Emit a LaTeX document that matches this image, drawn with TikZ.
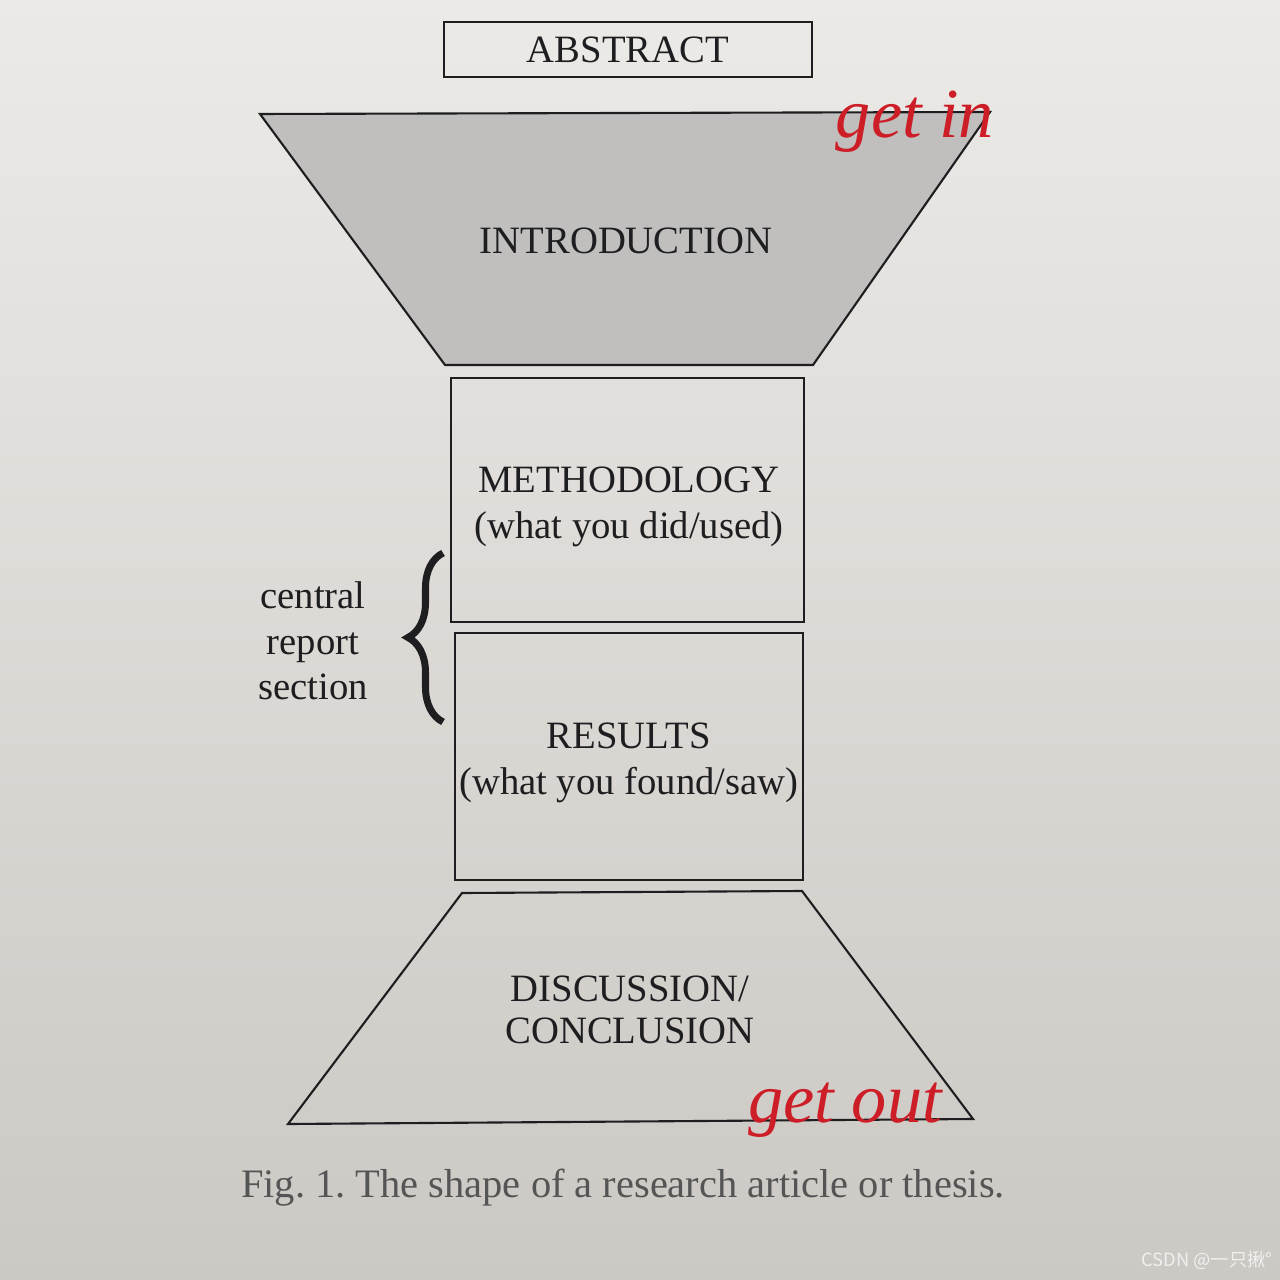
\documentclass[tikz,border=0pt]{standalone}
\usepackage{fontspec}
\setmainfont{Liberation Serif}
\newfontfamily\cjkfont{Noto Sans CJK SC}
\usetikzlibrary{positioning,decorations.pathreplacing}
\definecolor{paperTop}{RGB}{236,234,231}
\definecolor{paperBot}{RGB}{204,200,196}
\definecolor{introGray}{RGB}{192,191,190}
\definecolor{inkDark}{RGB}{30,30,32}
\definecolor{capGray}{RGB}{85,85,85}
\definecolor{penRed}{RGB}{205,30,40}
\tikzset{
    base/.style={font=\fontsize{11}{13}\selectfont, align=center, text=inkDark},
    part/.style={base, rectangle, draw=inkDark, line width=0.6pt, inner sep=0pt},
    funnel/.style={draw=inkDark, line width=0.6pt, line join=miter},
    label/.style={base, inner sep=1pt},
    curly/.style={decorate, decoration={brace, amplitude=0.35cm}, draw=inkDark, line width=2pt},
    pen/.style={font=\fontsize{20}{20}\selectfont\itshape, text=penRed, inner sep=0pt},
    stamp/.style={font=\cjkfont\fontsize{5.2}{6}\selectfont, text=white!88!gray, inner sep=0pt}
}

\begin{document}
\frenchspacing
\begin{tikzpicture}[x=0.01cm, y=-0.01cm]
  % Paper
  \shade[top color=paperTop, bottom color=paperBot] (0,0) rectangle (1280,1280);
  \useasboundingbox (0,0) rectangle (1280,1280);

  % Abstract
  \node[part, minimum width=3.67cm, minimum height=0.55cm] (abstract) at (628,49.5) {ABSTRACT};

  % Introduction (funnel in)
  \filldraw[funnel, fill=introGray] (260,114) -- (990,112) -- (813,365) -- (445,365) -- cycle;
  \node[label] (intro) at (626,241) {INTRODUCTION};

  % Central report section
  \node[part, minimum width=3.53cm, minimum height=2.44cm] (method) at (627.5,500) {};
  \node[label] (methodText) at (629,507) {METHODOLOGY\\(what you did/used)};
  \node[part, minimum width=3.48cm, minimum height=2.47cm] (results) at (629,756.5) {};
  \node[label] (resultsText) at (629,763) {RESULTS\\(what you found/saw)};

  % Discussion (funnel out)
  \draw[funnel] (462,893) -- (802,891) -- (973,1119) -- (288,1124) -- cycle;
  \node[label, font=\fontsize{11}{12}\selectfont] (discuss) at (630,1010) {DISCUSSION/\\CONCLUSION};

  % Brace and side label
  \coordinate (braceBot) at (443,722);
  \coordinate (braceTop) at (443,553);
  \draw[curly] (braceBot) -- (braceTop);
  \node[label] (central) at (313,641) {central\\report\\section};

  % Handwriting
  \node[pen] (getin) at (915,122) {get in};
  \node[pen] (getout) at (845,1110) {get out};

  % Caption
  \node[base, text=capGray, font=\fontsize{11.5}{14}\selectfont] (caption) at (623,1188) {Fig. 1. The shape of a research article or thesis.};

  \node[stamp] (csdn) at (1207,1260) {CSDN @一只揪°};
\end{tikzpicture}
\end{document}
